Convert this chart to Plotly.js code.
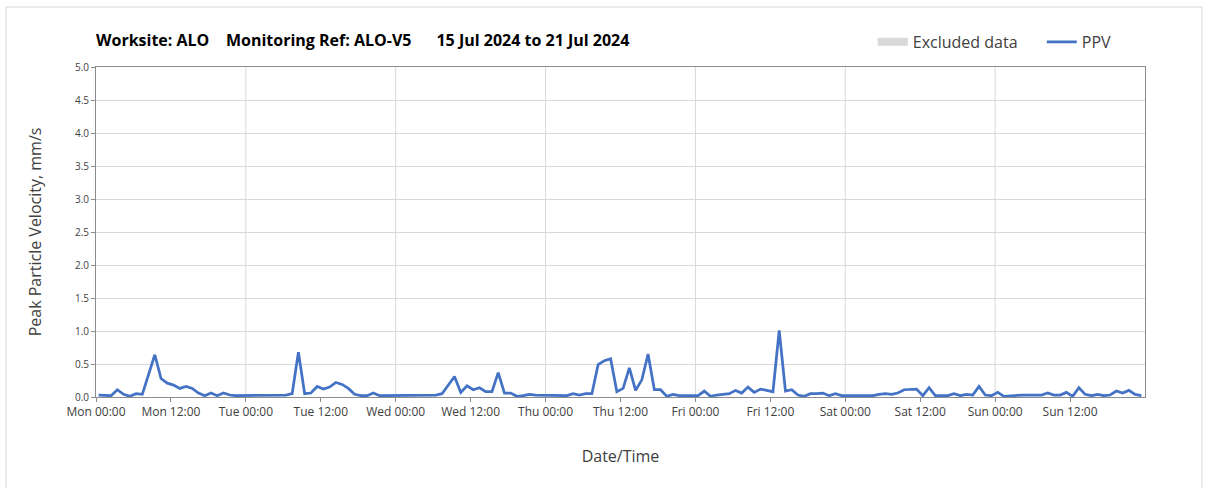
<!DOCTYPE html>
<html>
<head>
<meta charset="utf-8">
<script src="https://cdn.plot.ly/plotly-3.0.1.min.js"></script>
<style>html,body{margin:0;padding:0;background:#fff;}#chart{width:1208px;height:488px;}</style>
</head>
<body>
<div id="chart"></div>
<script>
// Hourly PPV readings (mm/s), first reading Mon 15 Jul 2024 00:25
const startTime = '2024-07-15T00:25:00';
const ppvValues = [
  0.03,0.03,0.02,0.11,0.04,0.01,0.05,0.04,0.34,0.64,
  0.28,0.21,0.18,0.13,0.16,0.13,0.06,0.02,0.06,0.02,
  0.06,0.03,0.02,0.02,0.03,0.02,0.02,0.02,0.03,0.03,
  0.03,0.05,0.68,0.05,0.06,0.16,0.12,0.15,0.22,0.19,
  0.13,0.04,0.02,0.02,0.06,0.02,0.02,0.02,0.02,0.02,
  0.02,0.03,0.03,0.03,0.03,0.05,0.19,0.31,0.07,0.17,
  0.11,0.14,0.08,0.08,0.37,0.06,0.06,0.01,0.02,0.04,
  0.03,0.03,0.03,0.03,0.03,0.02,0.05,0.03,0.05,0.05,
  0.49,0.55,0.58,0.08,0.13,0.44,0.10,0.26,0.65,0.11,
  0.11,0.01,0.04,0.02,0.02,0.02,0.02,0.09,0.01,0.03,
  0.04,0.05,0.10,0.06,0.15,0.07,0.12,0.10,0.08,1.01,
  0.09,0.11,0.03,0.01,0.05,0.05,0.06,0.02,0.05,0.02,
  0.02,0.02,0.02,0.02,0.02,0.04,0.05,0.04,0.06,0.11,
  0.12,0.12,0.02,0.14,0.02,0.02,0.02,0.05,0.02,0.04,
  0.03,0.16,0.03,0.02,0.07,0.01,0.02,0.02,0.03,0.03,
  0.03,0.03,0.06,0.03,0.03,0.07,0.01,0.14,0.04,0.02,
  0.04,0.02,0.03,0.09,0.06,0.10,0.04,0.02
];
const xRange = ['2024-07-15 00:00', '2024-07-21 23:59:59'];
const tickVals = ['2024-07-15 00:00','2024-07-15 12:00','2024-07-16 00:00','2024-07-16 12:00',
  '2024-07-17 00:00','2024-07-17 12:00','2024-07-18 00:00','2024-07-18 12:00',
  '2024-07-19 00:00','2024-07-19 12:00','2024-07-20 00:00','2024-07-20 12:00',
  '2024-07-21 00:00','2024-07-21 12:00'];
const dayBoundaries = ['2024-07-16','2024-07-17','2024-07-18','2024-07-19','2024-07-20','2024-07-21'];
const titleText = 'Worksite: ALO\u00a0\u00a0\u00a0\u00a0Monitoring Ref: ALO-V5\u00a0\u00a0\u00a0\u00a0\u00a0\u00a015 Jul 2024 to 21 Jul 2024';
const seriesNames = ['Excluded data', 'PPV'];

const t0 = new Date(startTime + 'Z').getTime();
const times = ppvValues.map((_, i) => new Date(t0 + i * 3600000).toISOString().slice(0, 19).replace('T', ' '));

const FONT = '"Open Sans", "Noto Sans", sans-serif';
const TXT = '#404040';

const traces = [
  {x: [null], y: [null], name: seriesNames[0], type: 'scatter', mode: 'lines',
   line: {color: '#d9d9d9', width: 4},
   fill: 'toself', fillcolor: '#d9d9d9', hoverinfo: 'skip'},
  {x: times, y: ppvValues, name: seriesNames[1], type: 'scatter', mode: 'lines',
   line: {color: '#4472C4', width: 2.75}}
];

const shapes = dayBoundaries.map(d => ({
  type: 'line', xref: 'x', yref: 'paper', x0: d, x1: d, y0: 0, y1: 1,
  line: {color: '#d9d9d9', width: 1}, layer: 'below'
}));
shapes.push({type: 'rect', xref: 'paper', yref: 'paper',
  x0: -0.0858, x1: 1.0543, y0: -0.285, y1: 1.1818,
  line: {color: '#d9d9d9', width: 1}, fillcolor: 'rgba(0,0,0,0)', layer: 'below'});

const layout = {
  width: 1208, height: 488,
  margin: {l: 96, r: 63, t: 67, b: 91, autoexpand: false},
  paper_bgcolor: '#fff', plot_bgcolor: '#fff',
  font: {family: FONT, color: TXT, size: 11},
  title: {text: titleText, font: {family: FONT, size: 16, color: '#000', weight: 'bold'},
    xref: 'container', yref: 'container', x: 96/1208, xanchor: 'left', y: 1 - 40/488, yanchor: 'middle'},
  showlegend: true,
  legend: {orientation: 'h', x: 0.7405, xanchor: 'left', y: 1.076, yanchor: 'middle',
    font: {family: FONT, size: 16, color: TXT}, entrywidth: 124, itemwidth: 30,
    bgcolor: 'rgba(0,0,0,0)'},
  xaxis: {
    type: 'date', range: xRange, tickmode: 'array', tickvals: tickVals,
    tickformat: '%a %H:%M', showgrid: false, zeroline: false, automargin: false,
    showline: true, linecolor: '#8c8c8c', linewidth: 1, mirror: true,
    ticks: 'outside', ticklen: 4, tickcolor: '#8c8c8c',
    tickfont: {family: FONT, size: 12, color: TXT},
    title: {text: 'Date/Time', font: {family: FONT, size: 16, color: TXT}, standoff: 31}
  },
  yaxis: {
    range: [0, 5], dtick: 0.5, tickformat: '.1f', automargin: false,
    showgrid: true, gridcolor: '#d9d9d9', gridwidth: 1, zeroline: false,
    showline: true, linecolor: '#8c8c8c', linewidth: 1, mirror: true,
    ticks: 'outside', ticklen: 4, tickcolor: '#8c8c8c',
    tickfont: {family: FONT, size: 10, color: TXT},
    title: {text: 'Peak Particle Velocity, mm/s', font: {family: FONT, size: 16, color: TXT}, standoff: 29}
  },
  shapes: shapes
};

Plotly.newPlot('chart', traces, layout, {displayModeBar: false, staticPlot: true});
</script>
</body>
</html>
